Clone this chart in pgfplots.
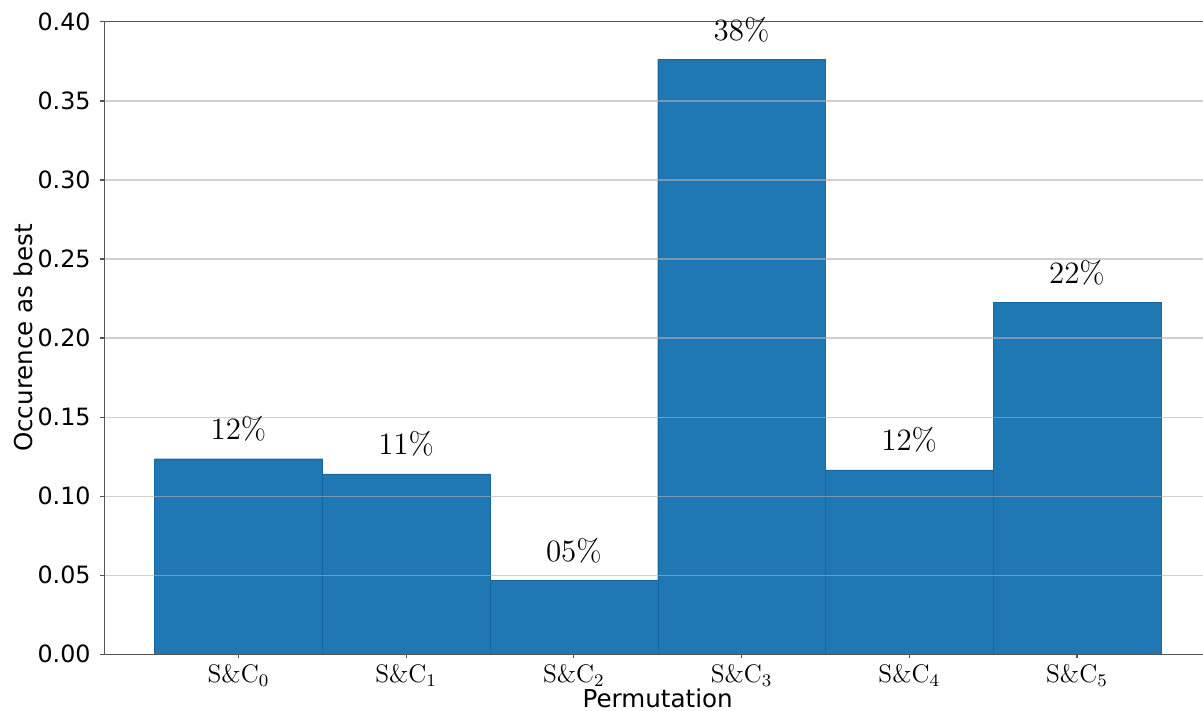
\RequirePackage{fix-cm}
\documentclass[border=0pt]{standalone}
\usepackage[no-math]{fontspec}
\setmainfont{DejaVu Sans}
\usepackage{pgfplots}
\pgfplotsset{compat=1.18}
\definecolor{barblue}{HTML}{1F77B4}
\definecolor{gridgray}{HTML}{B0B0B0}
\definecolor{spine}{HTML}{555555}
\begin{document}
\begin{tikzpicture}[x=1pt,y=1pt]
\useasboundingbox (0,0) rectangle (601.5,355.5);
\begin{axis}[
  at={(52.15pt,28.35pt)}, anchor=south west,
  scale only axis, width=553.4pt, height=316.2pt,
  xmin=-0.8, xmax=5.8, ymin=0, ymax=0.4,
  clip=false,
  ytick={0,0.05,0.1,0.15,0.2,0.25,0.3,0.35,0.4},
  /pgf/number format/assume math mode=true,
  yticklabel={\pgfmathprintnumber[fixed,fixed zerofill,precision=2]{\tick}},
  yticklabel style={anchor=east, inner sep=0pt, xshift=-4.65pt, font=\fontsize{11.9}{14}\selectfont},
  xtick={0,1,2,3,4,5},
  xticklabels={$\mathrm{S\&C}_0$,$\mathrm{S\&C}_1$,$\mathrm{S\&C}_2$,$\mathrm{S\&C}_3$,$\mathrm{S\&C}_4$,$\mathrm{S\&C}_5$},
  xticklabel style={anchor=base, inner sep=0pt, yshift=-12.2pt, font=\fontsize{12.7}{15}\selectfont},
  ymajorgrids,
  major grid style={gridgray, opacity=0.6, line width=0.6pt},
  axis line style={spine, line width=0.6pt},
  tick style={spine, line width=0.6pt},
  tick align=outside, major tick length=2pt,
  xtick pos=bottom, ytick pos=left,
  axis on top,
  xlabel={Permutation},
  ylabel={Occurence as best},
  xlabel style={at={([yshift=-26.8pt]axis description cs:0.5,0)}, anchor=base, inner sep=0pt, font=\fontsize{12.3}{14}\selectfont},
  ylabel style={at={([xshift=-36pt]axis description cs:0,0.5)}, anchor=base, inner sep=0pt, font=\fontsize{12.3}{14}\selectfont},
  ybar, bar width=1, bar shift=0pt,
  point meta=explicit symbolic,
  nodes near coords,
  nodes near coords style={anchor=base, inner sep=0pt, yshift=9.5pt, font=\fontsize{15.5}{18}\selectfont, text=black},
]
\addplot[fill=barblue, draw=barblue!85!black, line width=0.2pt] coordinates {
  (0,0.1237) [$12\%$]
  (1,0.1141) [$11\%$]
  (2,0.0466) [$05\%$]
  (3,0.3764) [$38\%$]
  (4,0.1166) [$12\%$]
  (5,0.2224) [$22\%$]
};
\end{axis}
\end{tikzpicture}
\end{document}
